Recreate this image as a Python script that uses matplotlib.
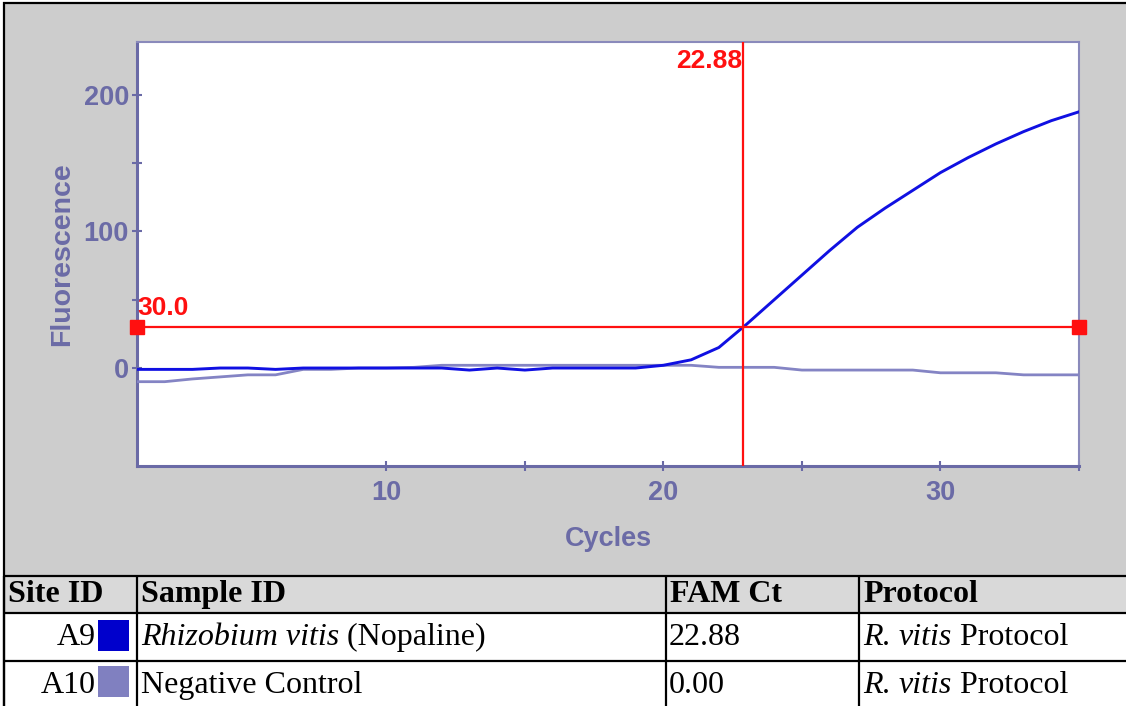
import matplotlib
matplotlib.use("Agg")
import matplotlib.pyplot as plt
from matplotlib.patches import Rectangle

# ---- amplification data ----
cycles = list(range(1, 36))
rhizobium = [-1, -1, -1, 0, 0, -1, 0, 0, 0, 0, 0, 0, -1.5, 0, -1.5, 0, 0, 0, 0,
             2, 6, 15, 32, 50, 68, 86, 103, 117, 130, 143, 154, 164, 173, 181, 187.5]
negative = [-10, -10, -8, -6.5, -5, -5, -1, -1, 0, 0, 0.5, 2, 2, 2, 2, 2, 2, 2, 2,
            2, 2, 0.5, 0.5, 0.5, -1.5, -1.5, -1.5, -1.5, -1.5, -3.5, -3.5, -3.5, -5, -5, -5]
threshold = 30.0

# ---- results table ----
headers = ["Site ID", "Sample ID", "FAM Ct", "Protocol"]
site_ids = ["A9", "A10"]
sample_ids = [[("Rhizobium vitis", "italic"), (" (Nopaline)", "normal")],
              [("Negative Control", "normal")]]
fam_ct = [22.88, 0.00]
protocols = [[("R", "italic"), (". ", "normal"), ("vitis", "italic"), (" Protocol", "normal")],
             [("R", "italic"), (". ", "normal"), ("vitis", "italic"), (" Protocol", "normal")]]
swatch_colors = ["#0000cc", "#8080c0"]
line_colors = ["#1010e2", "#8484c4"]

W, H = 1126, 706
fig = plt.figure(figsize=(W / 100, H / 100), dpi=100)
fig.patch.set_facecolor("white")

# background canvas in pixel coordinates
bg = fig.add_axes([0, 0, 1, 1])
bg.set_xlim(0, W)
bg.set_ylim(H, 0)
bg.axis("off")
bg.set_zorder(0)

panel_gray = "#cdcdcd"
header_gray = "#d9d9d9"
bg.add_patch(Rectangle((4, 3), W - 4, 575.5 - 3, facecolor=panel_gray, edgecolor="none"))
bg.add_patch(Rectangle((4, 575.5), W - 4, 613 - 575.5, facecolor=header_gray, edgecolor="none"))

# outer frame
bg.plot([4, 4], [2, H], color="black", lw=1.6, solid_capstyle="butt")
bg.plot([3, W], [2.5, 2.5], color="black", lw=1.6, solid_capstyle="butt")

# table grid
row_lines = [575.5, 613, 661, 708]
col_lines = [4, 136.7, 665.7, 859]
for y in row_lines:
    bg.plot([4, W], [y, y], color="black", lw=1.6, solid_capstyle="butt")
for x in col_lines:
    bg.plot([x, x], [575.5, H], color="black", lw=1.6, solid_capstyle="butt")

serif = "Liberation Serif"
fs_table = 23
header_y = 594.5
for x, h in zip(col_lines, headers):
    bg.text(x + 4, header_y, h, fontsize=fs_table, fontweight="bold", family=serif,
            ha="left", va="center", color="black")

row_y = [637.5, 685.5]
swatch_top = [620, 666]
for i in range(len(site_ids)):
    bg.text(96, row_y[i], site_ids[i], fontsize=fs_table, family=serif,
            ha="right", va="center", color="black")
    bg.add_patch(Rectangle((98, swatch_top[i]), 31, 30.5,
                           facecolor=swatch_colors[i], edgecolor="none"))
    bg.text(col_lines[2] + 3, row_y[i], f"{fam_ct[i]:.2f}", fontsize=fs_table,
            family=serif, ha="left", va="center", color="black")

fig.canvas.draw()
renderer = fig.canvas.get_renderer()


def draw_segments(x0, y, segments):
    x = x0
    for txt, style in segments:
        t = bg.text(x, y, txt, fontsize=fs_table, family=serif, style=style,
                    ha="left", va="center", color="black")
        bb = t.get_window_extent(renderer=renderer)
        x += bb.width


for i in range(len(site_ids)):
    draw_segments(col_lines[1] + 4, row_y[i], sample_ids[i])
    draw_segments(col_lines[3] + 4, row_y[i], protocols[i])

# ---- amplification plot ----
L, R, T, B = 137, 1079, 41.7, 466
ax = fig.add_axes([L / W, (H - B) / H, (R - L) / W, (B - T) / H])
ax.set_zorder(2)
ax.set_facecolor("white")

axis_col = "#6a6aa6"
text_col = "#6b6ba6"
sans = "Liberation Sans"

ax.plot(cycles, negative, color=line_colors[1], lw=2.0, zorder=3)
ax.plot(cycles, rhizobium, color=line_colors[0], lw=2.1, zorder=4)

ax.set_xlim(1, 35)
ax.set_ylim(-71.7, 238.8)

red = "#ff1010"
ax.axhline(threshold, color=red, lw=1.6, zorder=5)
ax.axvline(fam_ct[0], color=red, lw=1.6, zorder=5)
ax.plot([1, 35], [threshold, threshold], linestyle="none", marker="s",
        markersize=10.5, color=red, clip_on=False, zorder=6)

ax.annotate(f"{threshold:.1f}", xy=(1, threshold), xytext=(0, 5),
            textcoords="offset points", ha="left", va="bottom",
            fontsize=19, fontweight="bold", family=sans, color=red, zorder=7)
ax.annotate(f"{fam_ct[0]:.2f}", xy=(fam_ct[0], 238.8), xytext=(-1, -5),
            textcoords="offset points", ha="right", va="top",
            fontsize=19, fontweight="bold", family=sans, color=red, zorder=7)

ax.set_xticks([10, 20, 30])
ax.set_xticks([15, 25, 35], minor=True)
ax.set_yticks([0, 100, 200])
ax.set_yticks([50, 150], minor=True)
for which in ("major", "minor"):
    ax.tick_params(axis="both", which=which, direction="inout", length=7.5,
                   width=1.5, color=axis_col)
ax.tick_params(axis="x", which="major", pad=6, labelsize=19.5, labelcolor=text_col)
ax.tick_params(axis="y", which="major", pad=2, labelsize=19.5, labelcolor=text_col)
for lab in ax.get_xticklabels() + ax.get_yticklabels():
    lab.set_fontweight("bold")
    lab.set_family(sans)

for side in ("left", "bottom"):
    ax.spines[side].set_color(axis_col)
    ax.spines[side].set_linewidth(2.2)
for side in ("top", "right"):
    ax.spines[side].set_color("#8a8abb")
    ax.spines[side].set_linewidth(1.5)

ax.set_xlabel("Cycles", fontsize=19.5, fontweight="bold", family=sans,
              color=text_col, va="center")
ax.xaxis.set_label_coords(0.5, (B - 539) / (B - T))
ax.set_ylabel("Fluorescence", fontsize=20.5, fontweight="bold", family=sans,
              color=text_col, va="center")
ax.yaxis.set_label_coords((62 - L) / (R - L), 0.5)

fig.savefig("out.png", dpi=100, facecolor=fig.get_facecolor())
